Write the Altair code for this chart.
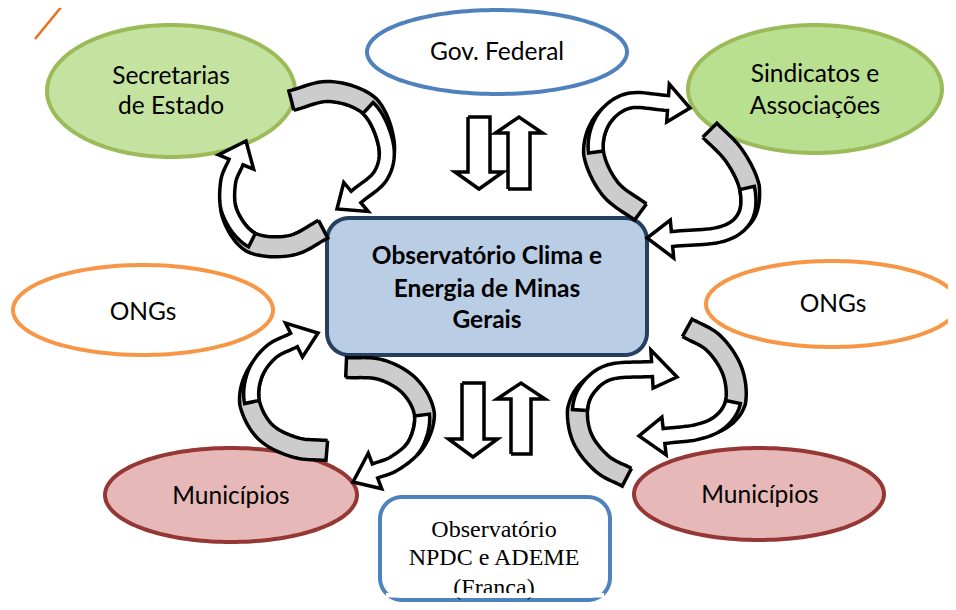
import altair as alt
import pandas as pd
import numpy as np

# ---------------- data (image pixel coordinates) ----------------
ell_cx = [171, 497, 815, 143, 832, 231, 759]
ell_cy = [91, 52, 89, 310, 304, 495, 494]
ell_rx = [124, 130, 127, 130, 126, 126, 125]
ell_ry = [66, 42, 64, 45, 43, 47, 46]
ell_fill = ["#c4e2a0", "#ffffff", "#b9df90", "#ffffff", "#ffffff", "#e6b9b8", "#e6b9b8"]
ell_stroke = ["#9bbb59", "#4f81bd", "#9bbb59", "#f79646", "#f79646", "#953735", "#953735"]

# rounded boxes: x0, y0, x1, y1, radius
box_x0 = [327, 380]
box_y0 = [218, 497]
box_x1 = [647, 610]
box_y1 = [355, 600]
box_r = [22, 22]
box_fill = ["#b9cde5", "#ffffff"]
box_stroke = ["#243f60", "#4f81bd"]

# straight block arrows: centre x, tail y, tip y, shaft width, head width, head length
sa_cx = [479, 519, 473, 521]
sa_tail = [117, 189, 383, 454]
sa_tip = [189, 117, 457, 383]
sa_shaft = [22, 22, 22, 20]
sa_head = [48, 47, 49, 48]
sa_hlen = [17, 16, 18, 16]

# curved (ribbon) arrows: centreline control points, tip, index where grey ribbon ends
ca_pts = [
    [(292, 103), (330, 94), (368, 108), (386, 145), (381, 175), (356, 197)],
    [(322, 227), (290, 243), (252, 240), (230, 213), (228, 183), (236, 162)],
    [(642, 210), (612, 187), (596, 152), (603, 120), (628, 101), (668, 103)],
    [(708, 132), (732, 157), (747, 188), (745, 217), (722, 234), (672, 239)],
    [(327, 448), (296, 445), (267, 430), (252, 402), (255, 374), (271, 352), (294, 340)],
    [(346, 370), (380, 372), (408, 388), (422, 415), (415, 445), (395, 463), (375, 471)],
    [(686, 330), (712, 345), (730, 372), (733, 402), (720, 422), (697, 432), (664, 436)],
    [(628, 475), (604, 462), (585, 438), (580, 410), (588, 388), (610, 372), (652, 369)],
]
ca_tip = [(337, 209), (246, 141), (690, 108), (647, 238), (318, 333), (353, 482), (639, 436), (677, 377)]
ca_grey_end = [2, 2, 2, 2, 3, 3, 3, 3]

# texts
txt_label = ["Secretarias", "de Estado", "Gov. Federal", "Sindicatos e", "Associações",
             "ONGs", "ONGs", "Municípios", "Municípios"]
txt_x = [171, 171, 497, 815, 815, 143, 833, 231, 760]
txt_y = [77, 107, 53, 75, 107, 313, 305, 497, 496]

bold_label = ["Observatório Clima e", "Energia de Minas", "Gerais"]
bold_x = [487, 487, 487]
bold_y = [257, 290, 321]

serif_label = ["Observatório", "NPDC e ADEME", "(Franca)"]
serif_x = [494, 494, 494]
serif_y = [530, 558, 588]

# ---------------- geometry helpers ----------------
X = alt.X("x:Q", scale=alt.Scale(domain=[8, 948], nice=False, zero=False), axis=None)
Y = alt.Y("y:Q", scale=alt.Scale(domain=[8, 602], nice=False, zero=False, reverse=True), axis=None)


def ellipse_pts(cx, cy, rx, ry, n=160):
    t = np.linspace(0, 2 * np.pi, n + 1)
    return list(zip(cx + rx * np.cos(t), cy + ry * np.sin(t)))


def rrect_pts(x0, y0, x1, y1, r, n=12):
    pts = []
    for cx, cy, a0, a1 in [(x1 - r, y0 + r, -90, 0), (x1 - r, y1 - r, 0, 90),
                           (x0 + r, y1 - r, 90, 180), (x0 + r, y0 + r, 180, 270)]:
        for a in np.linspace(np.radians(a0), np.radians(a1), n):
            pts.append((cx + r * np.cos(a), cy + r * np.sin(a)))
    pts.append(pts[0])
    return pts


def straight_arrow(cx, yt, yp, sw, hw, hl):
    s = 1 if yp > yt else -1
    yb = yp - s * hl
    pts = [(cx - sw / 2, yt), (cx + sw / 2, yt), (cx + sw / 2, yb), (cx + hw / 2, yb),
           (cx, yp), (cx - hw / 2, yb), (cx - sw / 2, yb), (cx - sw / 2, yt)]
    return pts


def catmull(pts, n=12):
    pts = np.array(pts, float)
    P = np.vstack([2 * pts[0] - pts[1], pts, 2 * pts[-1] - pts[-2]])
    out = []
    for i in range(1, len(P) - 2):
        p0, p1, p2, p3 = P[i - 1], P[i], P[i + 1], P[i + 2]
        for t in np.linspace(0, 1, n, endpoint=False):
            t2, t3 = t * t, t * t * t
            out.append(0.5 * ((2 * p1) + (-p0 + p2) * t + (2 * p0 - 5 * p1 + 4 * p2 - p3) * t2
                              + (-p0 + 3 * p1 - 3 * p2 + p3) * t3))
    out.append(pts[-1])
    return np.array(out), n


def ribbon(ctrl, tip, gidx, w=15, hw=19, extra=5):
    c, n = catmull(ctrl)
    d = np.gradient(c, axis=0)
    d = d / np.linalg.norm(d, axis=1)[:, None]
    nrm = np.stack([-d[:, 1], d[:, 0]], axis=1)
    L = c + nrm * w / 2            # inner edge (all arrows run clockwise)
    R = c - nrm * w / 2            # outer edge
    s = gidx * n
    s2 = min(s + int(1.3 * n), len(c) - 2)
    # grey ribbon: wider at the tail, tapering into a sliver on the outer side
    e = np.zeros(len(c))
    e[: s + 1] = extra
    e[s:s2 + 1] = extra * np.linspace(1, 0, s2 - s + 1)
    Rg = c - nrm * (w / 2 + e)[:, None]
    grey = list(map(tuple, L[: s2 + 1])) + list(map(tuple, Rg[: s2 + 1][::-1]))
    grey.append(grey[0])
    B = c[-1]
    wl = B + nrm[-1] * hw
    wr = B - nrm[-1] * hw
    white = list(map(tuple, L[s:])) + [tuple(wl), tuple(tip), tuple(wr)] + list(map(tuple, R[s:][::-1]))
    white.append(white[0])
    return grey, white


def poly_layer(pts, fill, stroke, sw):
    df = pd.DataFrame({"x": [p[0] for p in pts], "y": [p[1] for p in pts], "i": list(range(len(pts)))})
    return alt.Chart(df).mark_line(fill=fill, stroke=stroke, strokeWidth=sw,
                                   strokeJoin="miter", strokeMiterLimit=4).encode(
        x=X, y=Y, order="i:Q")


layers = []

# decorative orange line (top-left)
layers.append(alt.Chart(pd.DataFrame({"x": [35, 67], "y": [39, 0], "i": [0, 1]})).mark_line(
    stroke="#e8711c", strokeWidth=2.5).encode(x=X, y=Y, order="i:Q"))

# ellipses
for i in range(len(ell_cx)):
    layers.append(poly_layer(ellipse_pts(ell_cx[i], ell_cy[i], ell_rx[i], ell_ry[i]),
                             ell_fill[i], ell_stroke[i], 4))

# rounded boxes
for i in range(len(box_x0)):
    layers.append(poly_layer(rrect_pts(box_x0[i], box_y0[i], box_x1[i], box_y1[i], box_r[i]),
                             box_fill[i], box_stroke[i], 4))

# straight arrows
for i in range(len(sa_cx)):
    layers.append(poly_layer(straight_arrow(sa_cx[i], sa_tail[i], sa_tip[i], sa_shaft[i],
                                            sa_head[i], sa_hlen[i]), "#ffffff", "#000000", 3.5))

# curved ribbon arrows
for i in range(len(ca_pts)):
    g, wpts = ribbon(ca_pts[i], ca_tip[i], ca_grey_end[i])
    layers.append(poly_layer(g, "#cccccc", "#000000", 3.5))
    layers.append(poly_layer(wpts, "#ffffff", "#000000", 3.5))

# texts
t1 = alt.Chart(pd.DataFrame({"x": txt_x, "y": txt_y, "t": txt_label})).mark_text(
    font="Lato", fontSize=24.5, color="#000000", align="center", baseline="middle").encode(
    x=X, y=Y, text="t:N")
t2 = alt.Chart(pd.DataFrame({"x": bold_x, "y": bold_y, "t": bold_label})).mark_text(
    font="Lato", fontSize=24.5, fontWeight="bold", color="#000000", align="center",
    baseline="middle").encode(x=X, y=Y, text="t:N")
t3 = alt.Chart(pd.DataFrame({"x": serif_x, "y": serif_y, "t": serif_label})).mark_text(
    font="Liberation Serif", fontSize=24, color="#000000", align="center",
    baseline="middle").encode(x=X, y=Y, text="t:N")
layers += [t1, t2, t3]

# the last line of the lower box is cut off in the original
mask = [(386, 593), (604, 593), (604, 597.5), (386, 597.5), (386, 593)]
layers.append(poly_layer(mask, "#ffffff", "#ffffff", 0.1))

chart = alt.layer(*layers).properties(
    width=940, height=594, padding=0, autosize=alt.AutoSizeParams(type="none"),
    background="#ffffff"
).configure_view(stroke=None)

chart.save("out.html", embed_options={"renderer": "svg", "actions": False})
